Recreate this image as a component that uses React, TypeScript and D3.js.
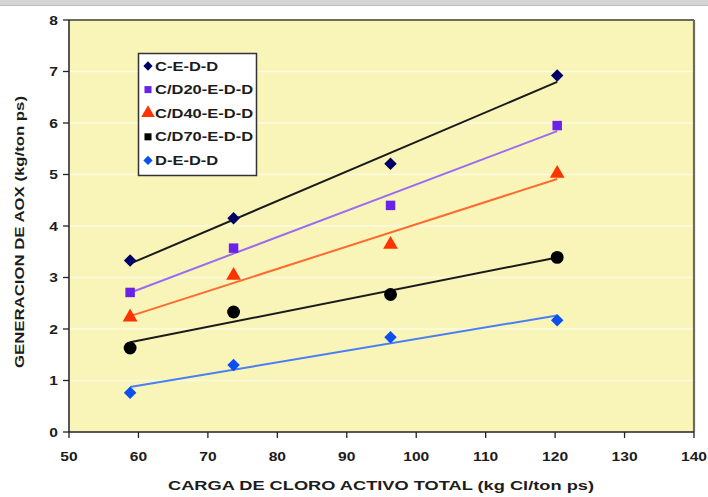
import React from "react";
import * as d3 from "d3";

const width = 708;
const height = 497;
const margin = { top: 20, right: 14, bottom: 65, left: 69 };

// carga de cloro activo total (kg Cl/ton ps)
const cargas = [58.8, 73.7, 96.3, 120.3];
const seriesNames = ["C-E-D-D", "C/D20-E-D-D", "C/D40-E-D-D", "C/D70-E-D-D", "D-E-D-D"];
const ceddValues = [3.33, 4.15, 5.21, 6.92];
const cd20Values = [2.71, 3.57, 4.4, 5.95];
const cd40Values = [2.23, 3.04, 3.64, 5.02];
const cd70Values = [1.63, 2.33, 2.67, 3.39];
const deddValues = [0.76, 1.3, 1.84, 2.17];
const xTicks = [50, 60, 70, 80, 90, 100, 110, 120, 130, 140];
const yTicks = [0, 1, 2, 3, 4, 5, 6, 7, 8];

const series = [
  { name: seriesNames[0], values: ceddValues, marker: "#000066", line: "#1a1a1a", shape: "diamond", legendShape: "diamond" },
  { name: seriesNames[1], values: cd20Values, marker: "#6a22e8", line: "#9a6cf2", shape: "square", legendShape: "square" },
  { name: seriesNames[2], values: cd40Values, marker: "#ff3300", line: "#ff6a2e", shape: "triangle", legendShape: "triangle" },
  { name: seriesNames[3], values: cd70Values, marker: "#000000", line: "#1a1a1a", shape: "circle", legendShape: "square" },
  { name: seriesNames[4], values: deddValues, marker: "#0a50f0", line: "#4a7ef5", shape: "diamond", legendShape: "diamond" },
];

const font = "'Liberation Sans', Arial, sans-serif";

function markerPath(shape: string, big: boolean) {
  const k = big ? 1 : 0.55;
  if (shape === "circle") return d3.symbol(d3.symbolCircle, 130 * k)()!;
  if (shape === "triangle") return d3.symbol(d3.symbolTriangle, big ? 95 : 80)()!;
  if (shape === "diamond") return d3.symbol(d3.symbolSquare, 78 * k)()!;
  return d3.symbol(d3.symbolSquare, 90 * k)()!;
}

// linear trend line (least squares)
function trend(xs: number[], ys: number[]) {
  const mx = d3.mean(xs)!;
  const my = d3.mean(ys)!;
  let sxy = 0;
  let sxx = 0;
  xs.forEach((x, i) => {
    sxy += (x - mx) * (ys[i] - my);
    sxx += (x - mx) * (x - mx);
  });
  const slope = sxy / sxx;
  return (x: number) => my + slope * (x - mx);
}

function SText({ x, y, sx = 1.2, anchor = "middle", size = 13, rotate = 0, children }: any) {
  return (
    <text
      transform={`translate(${x},${y}) rotate(${rotate}) scale(${sx},1)`}
      textAnchor={anchor}
      fontFamily={font}
      fontWeight="bold"
      fontSize={size}
      fill="#1c1c1c"
    >
      {children}
    </text>
  );
}

export default function App() {
  const x = d3.scaleLinear().domain([50, 140]).range([margin.left, width - margin.right]);
  const y = d3.scaleLinear().domain([0, 8]).range([height - margin.bottom, margin.top]);
  const x0 = d3.min(cargas)!;
  const x1 = d3.max(cargas)!;

  return (
    <svg
      width={width}
      height={height}
      style={{ position: "absolute", left: 0, top: 0, background: "#fff" }}
    >
      <rect x={0} y={0} width={width} height={5} fill="#d5d5d5" />
      <line x1={0} x2={width} y1={5.5} y2={5.5} stroke="#bdbdbd" />

      <rect
        x={x(50)}
        y={y(8)}
        width={x(140) - x(50)}
        height={y(0) - y(8)}
        fill="#f9f5b9"
      />
      {yTicks.slice(1, -1).map((t) => (
        <line
          key={`g${t}`}
          x1={x(50)}
          x2={x(140)}
          y1={y(t)}
          y2={y(t)}
          stroke="#ffffff"
          strokeOpacity={0.55}
          strokeWidth={1.5}
        />
      ))}
      {/* frame */}
      <line x1={x(50)} x2={x(140)} y1={y(8)} y2={y(8)} stroke="#6b6b5e" strokeWidth={2.2} />
      <line x1={x(140)} x2={x(140)} y1={y(8)} y2={y(0)} stroke="#6b6b5e" strokeWidth={2.2} />
      <line x1={x(50)} x2={x(50)} y1={y(8)} y2={y(0)} stroke="#222" strokeWidth={1.5} />
      <line x1={x(50)} x2={x(140)} y1={y(0)} y2={y(0)} stroke="#222" strokeWidth={1.5} />

      {yTicks.map((t) => (
        <g key={`y${t}`}>
          <line x1={x(50) - 6} x2={x(50)} y1={y(t)} y2={y(t)} stroke="#222" strokeWidth={1.3} />
          <SText x={x(50) - 11} y={y(t) + 4.5} anchor="end">
            {t}
          </SText>
        </g>
      ))}
      {xTicks.map((t) => (
        <g key={`x${t}`}>
          <line x1={x(t)} x2={x(t)} y1={y(0)} y2={y(0) + 6} stroke="#222" strokeWidth={1.3} />
          <SText x={x(t)} y={y(0) + 29}>
            {t}
          </SText>
        </g>
      ))}

      {series.map((s) => {
        const f = trend(cargas, s.values);
        return (
          <line
            key={`t${s.name}`}
            x1={x(x0)}
            x2={x(x1)}
            y1={y(f(x0))}
            y2={y(f(x1))}
            stroke={s.line}
            strokeWidth={2}
          />
        );
      })}
      {series.map((s) =>
        s.values.map((v, i) => (
          <path
            key={`m${s.name}${i}`}
            d={markerPath(s.shape, true)}
            transform={`translate(${x(cargas[i])},${y(v)}) rotate(${s.shape === "diamond" ? 45 : 0})`}
            fill={s.marker}
          />
        ))
      )}

      {/* legend */}
      <g>
        <rect x={138.5} y={53.5} width={118} height={122} fill="#ffffff" stroke="#333" strokeWidth={1.5} />
        {series.map((s, i) => (
          <g key={`l${s.name}`} transform={`translate(0,${66 + i * 23.6})`}>
            <path
              d={markerPath(s.legendShape, false)}
              transform={`translate(148,0) rotate(${s.legendShape === "diamond" ? 45 : 0})`}
              fill={s.marker}
            />
            <SText x={155} y={4.5} anchor="start" sx={1.27}>
              {s.name}
            </SText>
          </g>
        ))}
      </g>

      <text
        x={381}
        y={490}
        textAnchor="middle"
        fontFamily={font}
        fontWeight="bold"
        fontSize={13}
        fill="#1c1c1c"
        textLength={426}
        lengthAdjust="spacingAndGlyphs"
      >
        CARGA DE CLORO ACTIVO TOTAL (kg Cl/ton ps)
      </text>
      <text
        transform="translate(24,232) rotate(-90)"
        textAnchor="middle"
        fontFamily={font}
        fontWeight="bold"
        fontSize={13}
        fill="#1c1c1c"
        textLength={272}
        lengthAdjust="spacingAndGlyphs"
      >
        GENERACION DE AOX (kg/ton ps)
      </text>
    </svg>
  );
}
